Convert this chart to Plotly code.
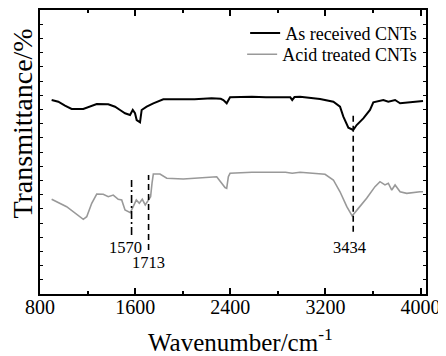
import plotly.graph_objects as go

# As received CNTs (wavenumber, transmittance in arbitrary units)
wn_raw = [898, 954, 1010, 1066, 1164, 1220, 1277, 1374, 1431, 1473, 1515, 1557, 1580, 1599, 1613, 1641,
          1655, 1697, 1753, 1837, 1893, 2034, 2100, 2243, 2320, 2342, 2370, 2398, 2582, 2700, 2862, 2905,
          2921, 2940, 2987, 3155, 3267, 3323, 3351, 3393, 3434, 3463, 3519, 3575, 3603, 3645, 3687, 3729,
          3786, 3828, 3912, 3996, 4021]
t_raw = [13.66, 13.54, 13.26, 13.03, 13.03, 13.19, 13.38, 13.36, 13.19, 12.96, 12.73, 12.61, 12.96, 12.73,
         12.25, 12.09, 12.96, 13.19, 13.43, 13.71, 13.71, 13.71, 13.71, 13.78, 13.75, 13.66, 13.43, 13.85,
         13.89, 13.86, 13.89, 13.85, 13.66, 13.87, 13.89, 13.73, 13.54, 13.19, 12.49, 11.71, 11.55, 11.90,
         12.37, 12.96, 13.50, 13.59, 13.66, 13.54, 13.66, 13.43, 13.50, 13.59, 13.59]

# Acid treated CNTs
wn_acid = [898, 1024, 1164, 1193, 1235, 1277, 1332, 1374, 1416, 1458, 1487, 1515, 1560, 1585, 1610, 1635,
           1660, 1685, 1705, 1730, 1742, 1753, 1809, 1866, 2005, 2100, 2215, 2286, 2328, 2356, 2370, 2384,
           2398, 2582, 2864, 2921, 2987, 3098, 3197, 3267, 3323, 3380, 3425, 3477, 3547, 3617, 3659, 3701,
           3729, 3758, 3786, 3828, 3884, 3996, 4021]
t_acid = [6.67, 6.15, 5.26, 5.44, 6.39, 7.04, 7.02, 6.85, 6.97, 6.67, 6.62, 5.92, 5.73, 6.15, 6.62, 6.39,
          6.67, 6.27, 6.50, 6.85, 7.80, 8.45, 8.45, 8.15, 8.10, 8.15, 8.26, 8.26, 7.80, 7.50, 7.44, 8.26,
          8.50, 8.57, 8.57, 8.50, 8.57, 8.50, 8.43, 8.03, 7.20, 6.15, 5.50, 6.03, 6.74, 7.56, 7.91, 7.68,
          7.80, 7.32, 7.68, 7.20, 7.09, 7.20, 7.20]

# Marked peaks
peak_labels = ["1570", "1713", "3434"]
peak_pos = [1570, 1713, 3434]
peak_top = [8.03, 8.38, 12.8]
peak_bottom = [4.15, 3.10, 4.39]
peak_dash = ["8px,3px,2px,3px", "6px,4px", "6px,4px"]
label_y = [3.31, 2.25, 3.31]
label_shift = [-6, 0, -4]

font_family = "Liberation Serif"

fig = go.Figure()
fig.add_trace(go.Scatter(x=wn_raw, y=t_raw, mode="lines", name="As received CNTs",
                         line=dict(color="black", width=2), legend="legend"))
fig.add_trace(go.Scatter(x=wn_acid, y=t_acid, mode="lines", name="Acid treated CNTs",
                         line=dict(color="#999999", width=1.6), legend="legend2"))

for i in range(len(peak_pos)):
    fig.add_trace(go.Scatter(x=[peak_pos[i], peak_pos[i]], y=[peak_bottom[i], peak_top[i]],
                             mode="lines", showlegend=False, hoverinfo="skip",
                             line=dict(color="black", width=1.6, dash=peak_dash[i])))
    fig.add_annotation(x=peak_pos[i], y=label_y[i], text=peak_labels[i], showarrow=False,
                       xshift=label_shift[i], font=dict(family=font_family, size=16.5, color="black"))

fig.add_annotation(xref="paper", yref="paper", x=0, y=0.60, xshift=-17, text="Transmittance/%",
                   textangle=-90, showarrow=False, xanchor="center", yanchor="middle",
                   font=dict(family=font_family, size=28, color="black"))
fig.add_annotation(xref="paper", yref="paper", x=0.52, y=-0.162, text="Wavenumber/cm<sup>-1</sup>",
                   showarrow=False, xanchor="center", yanchor="middle",
                   font=dict(family=font_family, size=25, color="black"))

leg_common = dict(xanchor="right", yanchor="middle", bgcolor="rgba(0,0,0,0)",
                  font=dict(family=font_family, size=18, color="black"))
fig.update_layout(
    width=438, height=348,
    margin=dict(l=32, r=20, t=2, b=62),
    paper_bgcolor="white", plot_bgcolor="white",
    font=dict(family=font_family, color="black"),
    legend=dict(x=0.99, y=0.918, **leg_common),
    legend2=dict(x=0.99, y=0.843, **leg_common),
    xaxis=dict(range=[800, 4046], tickmode="array", tickvals=[800, 1600, 2400, 3200, 4000],
               ticks="inside", ticklen=6, tickwidth=1.5, tickcolor="black",
               minor=dict(tickvals=[1200, 2000, 2800, 3600], ticks="inside", ticklen=3, tickwidth=1.5,
                          tickcolor="black"),
               showline=True, linecolor="black", linewidth=1.5, mirror="ticks", showgrid=False,
               zeroline=False, tickfont=dict(family=font_family, size=20, color="black"),
               ticklabelstandoff=-6, automargin=False),
    yaxis=dict(range=[0, 20], dtick=1, showticklabels=False, ticks="inside", ticklen=3,
               tickwidth=1.2, tickcolor="black", showline=True, linecolor="black", linewidth=1.5,
               mirror="ticks", showgrid=False, zeroline=False, automargin=False),
)

fig.write_html("out.html")
